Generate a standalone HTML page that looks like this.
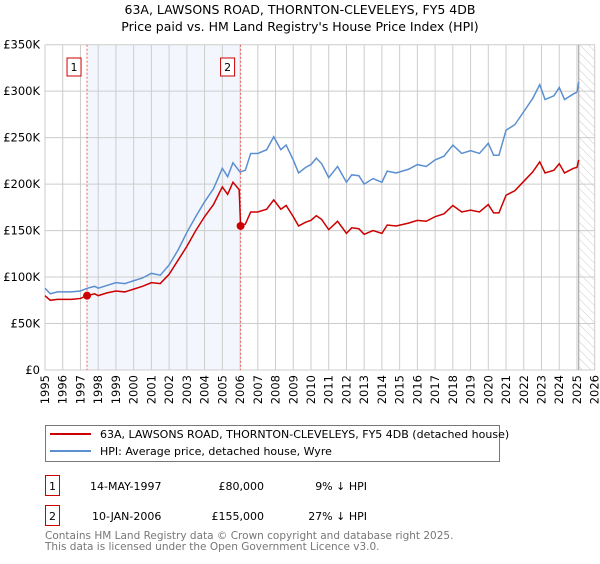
<!DOCTYPE html>
<html><head><meta charset="utf-8"><style>
body{margin:0;background:#fff;font-family:"DejaVu Sans","Liberation Sans",sans-serif;}
svg text{font-family:"DejaVu Sans","Liberation Sans",sans-serif;}
</style></head><body>
<svg id="chart" width="600" height="560" xmlns="http://www.w3.org/2000/svg">
<defs><pattern id="hatch" width="6" height="6" patternUnits="userSpaceOnUse" patternTransform="rotate(-45)"><line x1="0" y1="0" x2="0" y2="6" stroke="#ccc" stroke-width="1"/></pattern></defs>
<text x="300" y="14" text-anchor="middle" font-size="12.5">63A, LAWSONS ROAD, THORNTON-CLEVELEYS, FY5 4DB</text>
<text x="300" y="31" text-anchor="middle" font-size="12.5">Price paid vs. HM Land Registry's House Price Index (HPI)</text>
<g id="plot"></g>
<g>
<rect x="45.5" y="425.5" width="454" height="36" fill="#fff" stroke="#777"/>
<line x1="50" y1="434" x2="91" y2="434" stroke="#cc0000" stroke-width="2"/>
<text x="100" y="438" font-size="11">63A, LAWSONS ROAD, THORNTON-CLEVELEYS, FY5 4DB (detached house)</text>
<line x1="50" y1="451" x2="91" y2="451" stroke="#5b8fd0" stroke-width="2"/>
<text x="100" y="455" font-size="11">HPI: Average price, detached house, Wyre</text>
</g>
<g font-size="11">
<rect x="45.5" y="475.5" width="14" height="20" fill="#fff" stroke="#cc0000"/>
<text x="52.5" y="490" text-anchor="middle">1</text>
<text x="90" y="490">14-MAY-1997</text><text x="264" y="490" text-anchor="end">£80,000</text><text x="367" y="490" text-anchor="end">9% ↓ HPI</text>
<rect x="45.5" y="505.5" width="14" height="20" fill="#fff" stroke="#cc0000"/>
<text x="52.5" y="520" text-anchor="middle">2</text>
<text x="92" y="520">10-JAN-2006</text><text x="264" y="520" text-anchor="end">£155,000</text><text x="367" y="520" text-anchor="end">27% ↓ HPI</text>
</g>
<text x="45" y="539" font-size="10.5" fill="#777">Contains HM Land Registry data © Crown copyright and database right 2025.</text>
<text x="45" y="550" font-size="10.5" fill="#777">This data is licensed under the Open Government Licence v3.0.</text>
</svg>
<script>
const hpiYears=[1995.0,1995.3,1995.7,1996,1996.5,1997,1997.4,1997.8,1998,1998.5,1999,1999.5,2000,2000.5,2001,2001.5,2002,2002.5,2003,2003.5,2004,2004.5,2005,2005.3,2005.6,2006,2006.3,2006.6,2007,2007.5,2007.9,2008.3,2008.6,2009,2009.3,2009.7,2010,2010.3,2010.6,2011,2011.5,2012,2012.3,2012.7,2013,2013.5,2014,2014.3,2014.8,2015.5,2016,2016.5,2017,2017.5,2018,2018.5,2019,2019.5,2020,2020.3,2020.6,2021,2021.5,2022,2022.5,2022.9,2023.2,2023.7,2024,2024.3,2024.8,2025,2025.1];
const hpiValues=[88,82,84,84,84,85,88,90,88,91,94,93,96,99,104,102,113,129,148,165,181,195,217,208,223,213,215,233,233,237,251,237,242,226,212,218,221,228,222,207,219,202,210,209,200,206,202,214,212,216,221,219,226,230,242,233,236,233,244,231,231,258,264,278,292,307,291,295,304,291,297,299,310];
const ppYears=[1995.0,1995.3,1995.7,1996,1996.5,1997,1997.37,1997.8,1998,1998.5,1999,1999.5,2000,2000.5,2001,2001.5,2002,2002.5,2003,2003.5,2004,2004.5,2005,2005.3,2005.6,2005.95,2006.03,2006.3,2006.6,2007,2007.5,2007.9,2008.3,2008.6,2009,2009.3,2009.7,2010,2010.3,2010.6,2011,2011.5,2012,2012.3,2012.7,2013,2013.5,2014,2014.3,2014.8,2015.5,2016,2016.5,2017,2017.5,2018,2018.5,2019,2019.5,2020,2020.3,2020.6,2021,2021.5,2022,2022.5,2022.9,2023.2,2023.7,2024,2024.3,2024.8,2025,2025.1];
const ppValues=[80,75,76,76,76,77,80,82,80,83,85,84,87,90,94,93,103,118,133,150,165,178,197,189,202,194,155,157,170,170,173,183,173,177,165,155,159,161,166,162,151,160,147,153,152,146,150,147,156,155,158,161,160,165,168,177,170,172,170,178,169,169,188,193,203,213,224,212,215,222,212,217,218,226];
const sales=[{label:"1",year:1997.37,value:80},{label:"2",year:2006.03,value:155}];
const yTicks=[0,50,100,150,200,250,300,350];
const xTicks=[1995,1996,1997,1998,1999,2000,2001,2002,2003,2004,2005,2006,2007,2008,2009,2010,2011,2012,2013,2014,2015,2016,2017,2018,2019,2020,2021,2022,2023,2024,2025,2026];
const X0=45,X1=594.7,Y0=370,Y1=44.7;
const xs=y=>X0+(y-1995)/(2026-1995)*(X1-X0);
const ys=v=>Y0-v/350*(Y0-Y1);
const NS="http://www.w3.org/2000/svg";
const g=document.getElementById('plot');
function mk(t,a){const e=document.createElementNS(NS,t);for(const k in a)e.setAttribute(k,a[k]);g.appendChild(e);return e;}
let e=mk('rect',{x:xs(sales[0].year),y:Y1,width:xs(sales[1].year)-xs(sales[0].year),height:Y0-Y1,fill:'#eef3fc',opacity:0.7});


e=mk('rect',{x:xs(2025.1),y:Y1,width:X1-xs(2025.1),height:Y0-Y1,fill:'url(#hatch)'});


yTicks.forEach(v=>{
 let l=mk('line',{x1:X0,x2:X1,y1:ys(v),y2:ys(v),stroke:'#ccc'});
 
 
 let t=mk('text',{x:X0-5,y:ys(v)+4,'text-anchor':'end','font-size':'11.5'});
 t.textContent=v===0?'£0':'£'+v+'K';
 
 
});
xTicks.forEach(yr=>{
 let l=mk('line',{x1:xs(yr),x2:xs(yr),y1:Y1,y2:Y0,stroke:'#ccc'});
 
 
 let t=mk('text',{x:0,y:0,'text-anchor':'end','font-size':'11.5',transform:`translate(${xs(yr)+4},${Y0+5}) rotate(-90)`});
 t.textContent=yr;
 
 
});
e=mk('line',{x1:xs(2025.1),x2:xs(2025.1),y1:Y1,y2:Y0,stroke:'#999'});


sales.forEach(s=>{
 let l=mk('line',{x1:xs(s.year),x2:xs(s.year),y1:Y1,y2:Y0,stroke:'#f06060','stroke-dasharray':'2,2'});
 
 
 let r=mk('rect',{x:xs(s.year)-20,y:58,width:14,height:18,fill:'#fff',stroke:'#cc0000'});
 
 
 let t=mk('text',{x:xs(s.year)-13,y:71,'text-anchor':'middle','font-size':'11'});
 t.textContent=s.label;
 
 
});
let hp=mk('polyline',{points:hpiYears.map((y,i)=>xs(y)+','+ys(hpiValues[i])).join(' '),fill:'none',stroke:'#5b8fd0','stroke-width':1.5});


let pp=mk('polyline',{points:ppYears.map((y,i)=>xs(y)+','+ys(ppValues[i])).join(' '),fill:'none',stroke:'#cc0000','stroke-width':1.5});


sales.forEach(s=>{
 let c=mk('circle',{cx:xs(s.year),cy:ys(s.value),r:4,fill:'#cc0000'});
 
 
});
</script>
</body></html>
